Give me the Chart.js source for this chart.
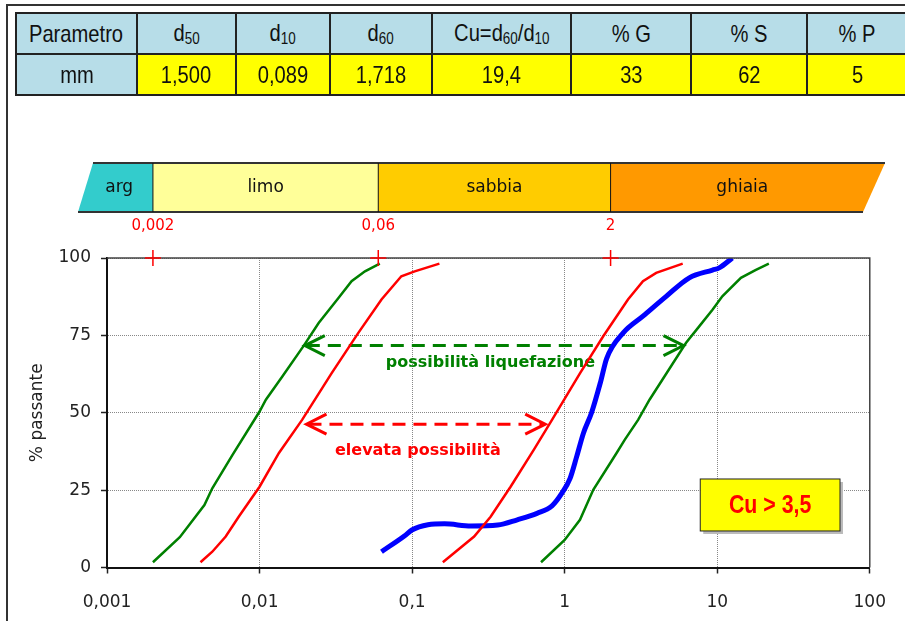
<!DOCTYPE html>
<html>
<head>
<meta charset="utf-8">
<script src="https://cdn.jsdelivr.net/npm/chart.js@4.4.0/dist/chart.umd.min.js"></script>
<style>
body { margin: 0; background: #fff; overflow: hidden; }
#wrap { position: relative; width: 905px; height: 621px; overflow: hidden; }
#frame { position: absolute; left: 6px; top: 4px; width: 1000px; height: 1000px; border-left: 2px solid #333; border-top: 2px solid #333; }
#tab { position: absolute; left: 15px; top: 12px; border-collapse: collapse; table-layout: fixed; width: 892px;
       font-family: "Liberation Sans", Arial, sans-serif; font-size: 24px; color: #111; }
#tab td { border: 2px solid #222; height: 41px; padding: 0; text-align: center; box-sizing: border-box; white-space: nowrap; }
#tab td.h { background: #b7dde8; }
#tab td.v { background: #ffff00; }
#tab span { display: inline-block; transform: scaleX(0.84); }
#tab sub { font-size: 16px; vertical-align: -3px; }
canvas { position: absolute; left: 0; top: 0; }
</style>
</head>
<body>
<div id="wrap">
  <canvas id="c" width="905" height="621"></canvas>
  <div id="frame"></div>
  <table id="tab">
    <colgroup>
      <col style="width:121px"><col style="width:99px"><col style="width:94px"><col style="width:102px">
      <col style="width:139px"><col style="width:120px"><col style="width:116px"><col style="width:101px">
    </colgroup>
    <tr id="hrow"></tr>
    <tr id="vrow"></tr>
  </table>
</div>
<script>
// tabella parametri
var tableHeaders = ["Parametro", "d<sub>50</sub>", "d<sub>10</sub>", "d<sub>60</sub>", "Cu=d<sub>60</sub>/d<sub>10</sub>", "% G", "% S", "% P"];
var tableValues = ["mm", "1,500", "0,089", "1,718", "19,4", "33", "62", "5"];

// assi
var xTicks = [0.001, 0.01, 0.1, 1, 10, 100];
var xTickLabels = ["0,001", "0,01", "0,1", "1", "10", "100"];
var yTicks = [0, 25, 50, 75, 100];

// fasce granulometriche
var bandNames = ["arg", "limo", "sabbia", "ghiaia"];
var bandLimits = [0.002, 0.06, 2];
var bandLimitLabels = ["0,002", "0,06", "2"];

// fuso liquefazione (verde)
var greenFineX = [0.002, 0.003, 0.00435, 0.0049, 0.00665, 0.01, 0.011, 0.0141, 0.0195, 0.0244, 0.0329, 0.0401, 0.0491, 0.0614];
var greenFineY = [1.7, 9.8, 20.2, 25.6, 36.4, 50.4, 54.2, 61.7, 71.7, 79, 87.1, 92.5, 95.7, 98.2];
var greenCoarseX = [0.70, 1.0, 1.26, 1.54, 2.19, 2.48, 3.03, 3.6, 6.25, 7.62, 9.31, 10.8, 14.3, 17.8, 21.8];
var greenCoarseY = [1.7, 8.9, 15.4, 25.1, 37, 41.3, 47.7, 54.2, 72.6, 77.9, 83.3, 87.6, 93.6, 96.1, 98.2];

// fuso elevata possibilita (rosso)
var redFineX = [0.0041, 0.0049, 0.006, 0.0073, 0.01, 0.0134, 0.019, 0.0297, 0.0444, 0.063, 0.085, 0.104, 0.151];
var redFineY = [1.7, 5.1, 10, 16.4, 26.1, 37, 47.7, 62.8, 75.8, 86.6, 94.1, 95.7, 98.2];
var redCoarseX = [0.159, 0.255, 0.327, 0.442, 0.627, 0.826, 1.262, 1.79, 2.6, 3.26, 3.98, 5.94];
var redCoarseY = [1.7, 10, 16.4, 26.1, 38, 47.7, 62.8, 74.7, 86.6, 92.5, 95.2, 98.2];

// campione (blu)
var sampleX = [0.063, 0.089, 0.0996, 0.127, 0.163, 0.243, 0.364, 0.489, 0.659, 0.826, 0.959, 1.087, 1.2, 1.327, 1.5, 1.72, 1.884, 2.42, 3.26, 4.63, 6.56, 9.31, 10.3, 12.56];
var sampleY = [5.1, 10.2, 12.1, 13.8, 14.1, 13.4, 13.7, 15.4, 17.5, 19.9, 24, 28.9, 35.9, 43.4, 50, 60, 67.5, 75.8, 81.2, 87.6, 93.6, 96.1, 96.8, 100];

var hrow = document.getElementById("hrow");
var vrow = document.getElementById("vrow");
for (var i = 0; i < tableHeaders.length; i++) {
    var th = document.createElement("td");
    th.className = "h";
    th.innerHTML = "<span>" + tableHeaders[i] + "</span>";
    hrow.appendChild(th);
    var tv = document.createElement("td");
    tv.className = i == 0 ? "h" : "v";
    tv.innerHTML = "<span>" + tableValues[i] + "</span>";
    vrow.appendChild(tv);
}

function points(xs, ys) {
    var p = [];
    for (var i = 0; i < xs.length; i++) {
        p.push({x: xs[i], y: ys[i]});
    }
    return p;
}

function curve(xs, ys, color, width, tension) {
    return {
        data: points(xs, ys),
        borderColor: color,
        borderWidth: width,
        pointRadius: 0,
        fill: false,
        tension: tension,
        cubicInterpolationMode: tension > 0 ? "monotone" : "default"
    };
}

var GREEN = "#008000";
var RED = "#ff0000";
var comic = "'DejaVu Sans', sans-serif";

function dashedArrow(ctx, x1, x2, y, color) {
    ctx.save();
    ctx.strokeStyle = color;
    ctx.lineWidth = 3;
    ctx.setLineDash([13, 8]);
    ctx.beginPath();
    ctx.moveTo(x1 + 3, y);
    ctx.lineTo(x2 - 3, y);
    ctx.stroke();
    ctx.setLineDash([]);
    ctx.beginPath();
    ctx.moveTo(x1 + 21, y - 10);
    ctx.lineTo(x1 + 1, y);
    ctx.lineTo(x1 + 21, y + 10);
    ctx.moveTo(x2 - 21, y - 10);
    ctx.lineTo(x2 - 1, y);
    ctx.lineTo(x2 - 21, y + 10);
    ctx.stroke();
    ctx.restore();
}

var notes = {
    id: "notes",
    beforeDatasetsDraw: function (chart) {
        var ctx = chart.ctx, xs = chart.scales.x, ys = chart.scales.y;
        dashedArrow(ctx, xs.getPixelForValue(0.0195), xs.getPixelForValue(6.1), ys.getPixelForValue(71.7), GREEN);
        dashedArrow(ctx, xs.getPixelForValue(0.02), xs.getPixelForValue(0.757), ys.getPixelForValue(46.3), RED);
        ctx.save();
        ctx.font = "bold 16px " + comic;
        ctx.textAlign = "center";
        ctx.textBaseline = "middle";
        ctx.fillStyle = GREEN;
        ctx.fillText("possibilità liquefazione", xs.getPixelForValue(0.326), ys.getPixelForValue(66.2));
        ctx.fillStyle = RED;
        ctx.fillText("elevata possibilità", xs.getPixelForValue(0.109), ys.getPixelForValue(37.8));
        ctx.restore();
    },
    afterDraw: function (chart) {
        var ctx = chart.ctx, xs = chart.scales.x, ys = chart.scales.y, a = chart.chartArea;
        ctx.save();
        // cornice area grafico
        ctx.strokeStyle = "#444";
        ctx.lineWidth = 1.5;
        ctx.beginPath();
        ctx.moveTo(a.left, a.top);
        ctx.lineTo(a.right, a.top);
        ctx.lineTo(a.right, a.bottom);
        ctx.stroke();

        // riquadro Cu
        var bx1 = xs.getPixelForValue(7.74), bx2 = xs.getPixelForValue(63.8);
        var by1 = ys.getPixelForValue(28.6), by2 = ys.getPixelForValue(11.8);
        ctx.fillStyle = "#bbb";
        ctx.fillRect(bx1 + 3, by1 + 3, bx2 - bx1, by2 - by1);
        ctx.fillStyle = "#ffff00";
        ctx.fillRect(bx1, by1, bx2 - bx1, by2 - by1);
        ctx.strokeStyle = "#222";
        ctx.lineWidth = 1;
        ctx.strokeRect(bx1, by1, bx2 - bx1, by2 - by1);
        ctx.save();
        ctx.translate((bx1 + bx2) / 2, (by1 + by2) / 2 + 1);
        ctx.scale(0.82, 1);
        ctx.fillStyle = RED;
        ctx.font = "bold 26px 'Liberation Sans', sans-serif";
        ctx.textAlign = "center";
        ctx.textBaseline = "middle";
        ctx.fillText("Cu > 3,5", 0, 0);
        ctx.restore();

        // fascia classi granulometriche
        var top = 163, bot = 212;
        var edges = [[93, 78]];
        for (var i = 0; i < bandLimits.length; i++) {
            var px = xs.getPixelForValue(bandLimits[i]);
            edges.push([px, px]);
        }
        edges.push([885, 863]);
        var fills = ["#33cccc", "#ffff99", "#ffcc00", "#ff9900"];
        ctx.textAlign = "center";
        ctx.textBaseline = "middle";
        for (var i = 0; i < bandNames.length; i++) {
            var l = edges[i], r = edges[i + 1];
            ctx.fillStyle = fills[i];
            ctx.beginPath();
            ctx.moveTo(l[0], top);
            ctx.lineTo(r[0], top);
            ctx.lineTo(r[1], bot);
            ctx.lineTo(l[1], bot);
            ctx.closePath();
            ctx.fill();
            ctx.fillStyle = "#111";
            ctx.font = "17px " + comic;
            ctx.fillText(bandNames[i], (l[0] + l[1] + r[0] + r[1]) / 4, (top + bot) / 2);
        }
        ctx.strokeStyle = "#333";
        ctx.lineWidth = 2;
        ctx.beginPath();
        ctx.moveTo(93, top); ctx.lineTo(885, top);
        ctx.moveTo(78, bot); ctx.lineTo(863, bot);
        ctx.stroke();
        ctx.strokeStyle = "#111";
        ctx.lineWidth = 1;
        ctx.beginPath();
        for (var i = 1; i < edges.length - 1; i++) {
            ctx.moveTo(edges[i][0], top);
            ctx.lineTo(edges[i][0], bot);
        }
        ctx.stroke();

        // limiti e crocette
        var y100 = ys.getPixelForValue(100);
        ctx.strokeStyle = RED;
        ctx.fillStyle = RED;
        ctx.lineWidth = 1.5;
        ctx.font = "15px " + comic;
        for (var i = 0; i < bandLimits.length; i++) {
            var px = xs.getPixelForValue(bandLimits[i]);
            ctx.beginPath();
            ctx.moveTo(px - 8, y100); ctx.lineTo(px + 8, y100);
            ctx.moveTo(px, y100 - 8); ctx.lineTo(px, y100 + 8);
            ctx.stroke();
            ctx.fillText(bandLimitLabels[i], px, 226);
        }
        ctx.restore();
    }
};

var chart = new Chart(document.getElementById("c"), {
    type: "line",
    data: {
        datasets: [
            curve(greenFineX, greenFineY, GREEN, 2.5, 0),
            curve(greenCoarseX, greenCoarseY, GREEN, 2.5, 0),
            curve(redFineX, redFineY, RED, 2.5, 0),
            curve(redCoarseX, redCoarseY, RED, 2.5, 0),
            curve(sampleX, sampleY, "#0000ff", 5, 0.4)
        ]
    },
    options: {
        responsive: false,
        animation: false,
        layout: {padding: {left: 23, top: 258, right: 30, bottom: 0}},
        plugins: {legend: {display: false}, tooltip: {enabled: false}},
        scales: {
            x: {
                type: "logarithmic",
                min: 0.001,
                max: 100,
                afterBuildTicks: function (s) { s.ticks = xTicks.map(function (v) { return {value: v}; }); },
                afterFit: function (s) { s.height = 53.5; },
                ticks: {
                    autoSkip: false, maxRotation: 0, padding: 19, color: "#222",
                    font: {family: "DejaVu Sans", size: 17},
                    callback: function (v, i) { return xTickLabels[i]; }
                },
                grid: {color: "#888", lineWidth: 1, tickLength: 6, tickColor: "#222", tickWidth: 1.5, tickBorderDash: []},
                border: {color: "#111", width: 2, dash: [1, 1]}
            },
            y: {
                min: 0,
                max: 100,
                afterBuildTicks: function (s) { s.ticks = yTicks.map(function (v) { return {value: v}; }); },
                afterFit: function (s) { s.width = 84; },
                ticks: {padding: 10, color: "#222", font: {family: "DejaVu Sans", size: 17}},
                grid: {color: "#888", lineWidth: 1, tickLength: 6, tickColor: "#222", tickWidth: 1.5, tickBorderDash: []},
                border: {color: "#111", width: 2, dash: [1, 1]},
                title: {display: true, text: "% passante", color: "#222", font: {family: "DejaVu Sans", size: 17}, padding: {top: 4, bottom: 4}}
            }
        }
    },
    plugins: [notes]
});
</script>
</body>
</html>
